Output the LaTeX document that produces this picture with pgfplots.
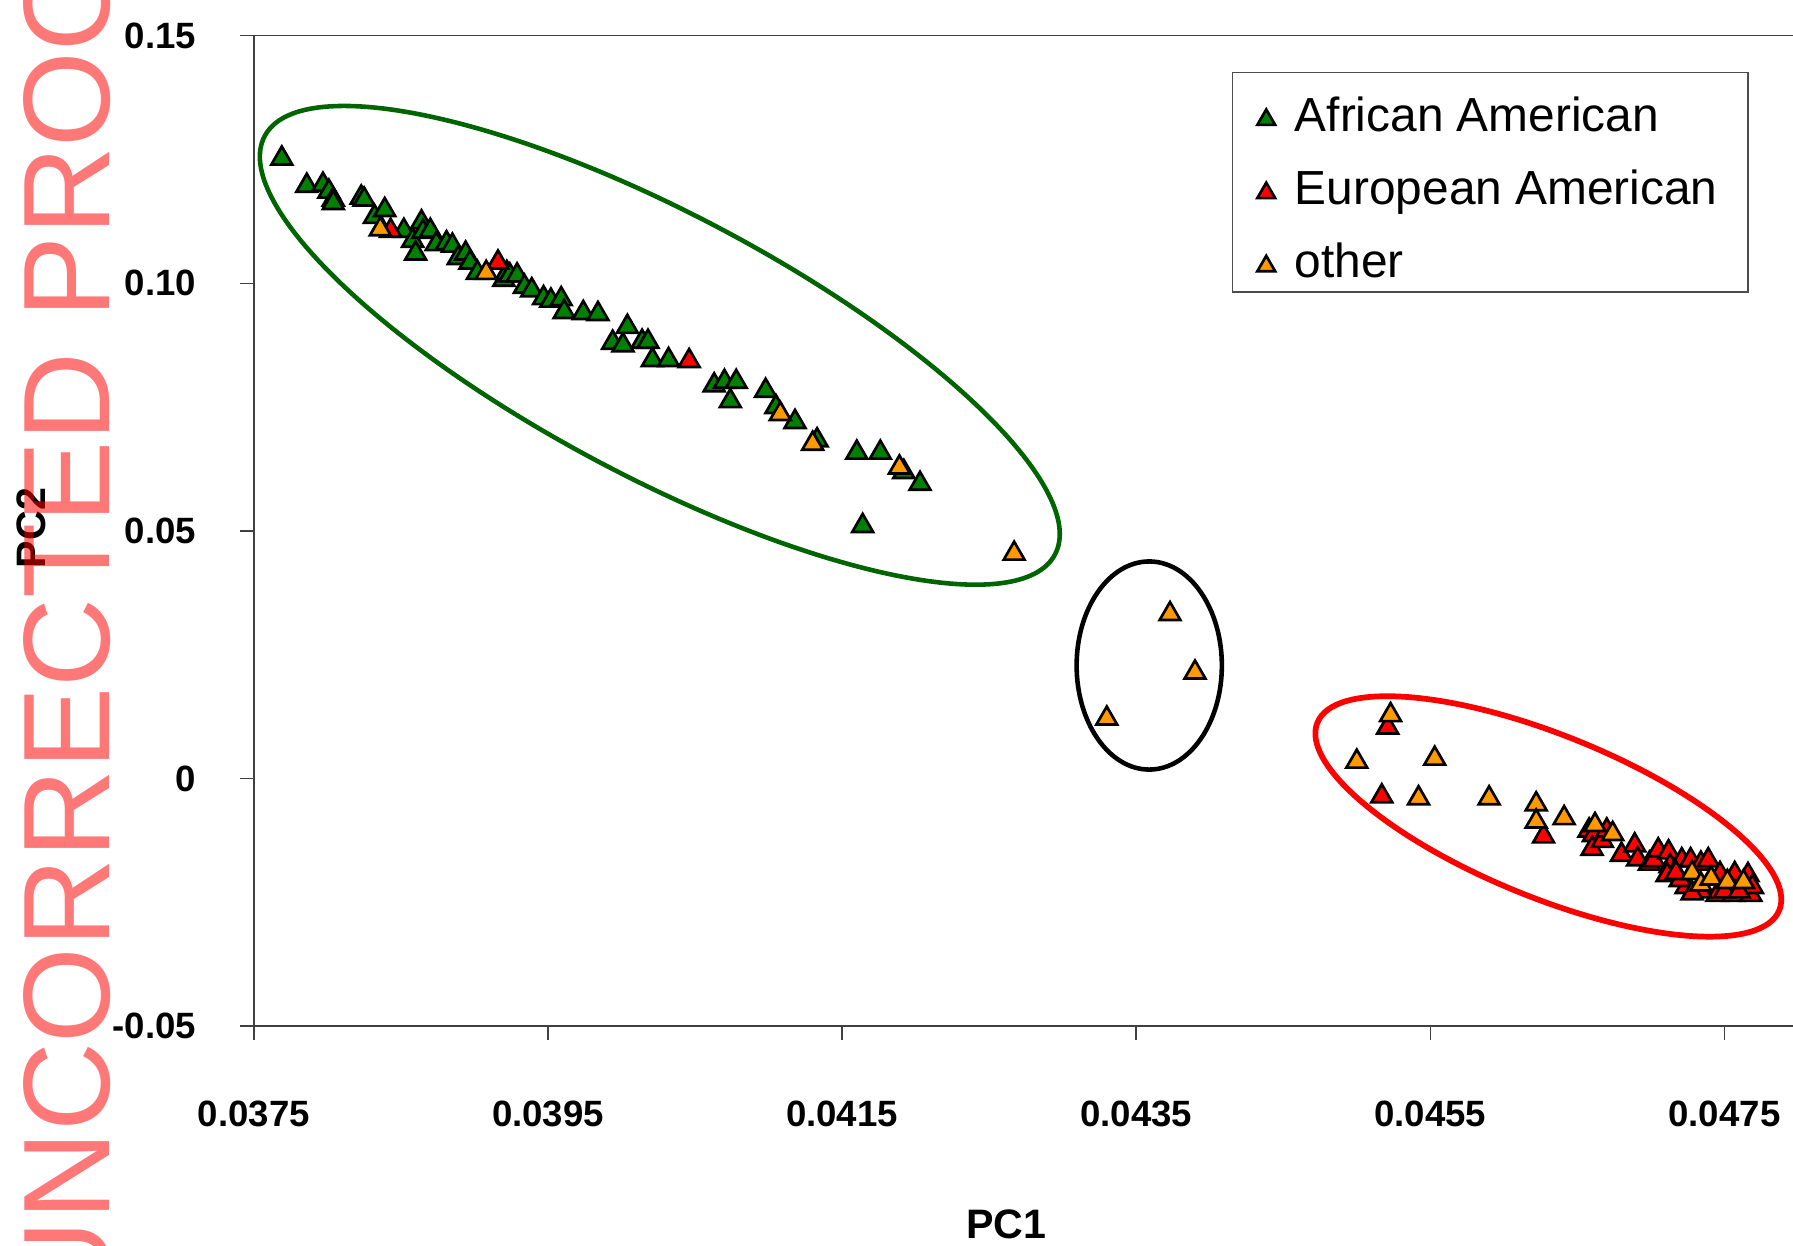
\documentclass[border=0pt]{standalone}
\usepackage{fontspec}
\setmainfont{Liberation Sans}
\usepackage{pgfplots}
\pgfplotsset{compat=1.18}
\definecolor{aagreen}{RGB}{0,128,0}
\definecolor{eared}{RGB}{255,0,0}
\definecolor{othorange}{RGB}{255,153,0}
\definecolor{ellgreen}{RGB}{0,100,0}
\pgfplotsset{tri/.style={only marks, mark=triangle*, mark size=3.15pt,
  mark options={fill=#1, draw=black, line width=0.7pt}}}
\begin{document}
\begin{tikzpicture}
\useasboundingbox (0,0) rectangle (470.4pt,326.7pt);
\begin{axis}[
  at={(66.6pt,57.51pt)}, anchor=south west,
  scale only axis, width=405.09pt, height=259.83pt,
  xmin=0.0375, xmax=0.048, ymin=-0.05, ymax=0.15,
  scaled x ticks=false, scaled y ticks=false,
  xtick={0.0375,0.0395,0.0415,0.0435,0.0455,0.0475},
  xticklabels={0.0375,0.0395,0.0415,0.0435,0.0455,0.0475},
  ytick={-0.05,0,0.05,0.10,0.15},
  yticklabels={-0.05,0,0.05,0.10,0.15},
  tick pos=left, tick align=outside, major tick length=3.6pt,
  tick style={black!75, line width=0.4pt},
  axis line style={black!75, line width=0.4pt},
  ticklabel style={font=\bfseries\fontsize{9.6pt}{11pt}\selectfont},
  xticklabel style={anchor=north, inner sep=0pt, yshift=-15.9pt},
  yticklabel style={anchor=east, inner sep=0pt, xshift=-11.4pt},
  xlabel={PC1}, ylabel={PC2},
  label style={font=\bfseries\fontsize{10.8pt}{12pt}\selectfont},
  xlabel style={at={(axis description cs:0.4873,-0.2)}, anchor=center},
  ylabel style={at={(axis description cs:-0.1444,0.5029)}, anchor=center},
  legend style={at={(axis description cs:0.6332,0.9636)}, anchor=north west,
    draw=black!70, line width=0.4pt, inner xsep=2pt, inner ysep=2pt,
    font=\fontsize{12.55pt}{14pt}\selectfont, row sep=4pt, column sep=3pt,
    nodes={inner sep=0pt, text height=13.5pt, text depth=1.7pt}},
  legend cell align=left,
  legend image code/.code={\path (0pt,-3pt) (11pt,3pt);
    \draw[#1, mark size=2.7pt] plot coordinates {(6.7pt,-2.8pt)};},
]
\addplot[tri=aagreen] table {
0.03769 0.1252
0.03786 0.1197
0.03797 0.1199
0.03801 0.1185
0.03804 0.1169
0.03804 0.1162
0.03823 0.1173
0.03825 0.1169
0.03832 0.1134
0.03839 0.1148
0.03852 0.1106
0.03858 0.1086
0.03860 0.1060
0.03864 0.1123
0.03865 0.1104
0.03870 0.1106
0.03874 0.1079
0.03881 0.1081
0.03885 0.1076
0.03889 0.1051
0.03894 0.1060
0.03897 0.1042
0.03902 0.1021
0.03920 0.1007
0.03922 0.1021
0.03924 0.1016
0.03929 0.1016
0.03934 0.0993
0.03939 0.0986
0.03947 0.0970
0.03952 0.0965
0.03959 0.0968
0.03961 0.0942
0.03974 0.0940
0.03984 0.0938
0.03994 0.0880
0.04001 0.0875
0.04004 0.0912
0.04014 0.0882
0.04018 0.0882
0.04021 0.0845
0.04032 0.0845
0.04063 0.0794
0.04070 0.0801
0.04078 0.0801
0.04074 0.0762
0.04098 0.0783
0.04105 0.0750
0.04118 0.0720
0.04133 0.0683
0.04160 0.0658
0.04176 0.0658
0.04192 0.0619
0.04203 0.0595
0.04164 0.0510
};
\addlegendentry{African American}
\addplot[tri=eared] table {
0.03843 0.1106
0.03916 0.1042
0.04046 0.0843
0.04521 0.0103
0.04517 -0.0036
0.04627 -0.0117
0.04658 -0.0105
0.04661 -0.0114
0.04660 -0.0142
0.04667 -0.0126
0.04670 -0.0105
0.04680 -0.0154
0.04689 -0.0135
0.04691 -0.0163
0.04699 -0.0172
0.04702 -0.0165
0.04705 -0.0145
0.04712 -0.0149
0.04713 -0.0177
0.04711 -0.0195
0.04721 -0.0165
0.04727 -0.0165
0.04724 -0.0219
0.04734 -0.0172
0.04739 -0.0165
0.04747 -0.0193
0.04757 -0.0193
0.04766 -0.0195
0.04745 -0.0235
0.04756 -0.0235
0.04768 -0.0235
0.04769 -0.0219
0.04734 -0.0228
0.04720 -0.0205
0.04728 -0.0232
0.04750 -0.0228
0.04760 -0.0228
0.04717 -0.0191
};
\addlegendentry{European American\hspace*{6pt}}
\addplot[tri=othorange] table {
0.03836 0.1109
0.03908 0.1021
0.04108 0.0736
0.04130 0.0676
0.04189 0.0628
0.04267 0.0454
0.04373 0.0332
0.04390 0.0214
0.04330 0.0121
0.04523 0.0128
0.04500 0.0034
0.04553 0.0040
0.04542 -0.0040
0.04590 -0.0040
0.04622 -0.0052
0.04622 -0.0087
0.04641 -0.0080
0.04662 -0.0094
0.04674 -0.0112
0.04728 -0.0191
0.04734 -0.0214
0.04741 -0.0202
0.04752 -0.0209
0.04763 -0.0209
};
\addlegendentry{other}
\end{axis}
\begin{scope}[x=0.3pt, y=0.3pt]
\draw[ellgreen, line width=1.2pt, rotate around={-27.9:(577,787)}] (577,787) ellipse [x radius=391, y radius=115];
\draw[black, line width=1.2pt] (1005,507) ellipse [x radius=63.5, y radius=91];
\draw[eared, line width=1.5pt, rotate around={-22.1:(1354,375)}] (1354,375) ellipse [x radius=218, y radius=71];
\node[rotate=90, anchor=base west, inner sep=0pt, text=red, opacity=0.53, text opacity=0.53,
  font=\fontsize{32.3pt}{34pt}\selectfont] at (96,-57) {UNCORRECTED PROOF};
\end{scope}
\end{tikzpicture}
\end{document}
